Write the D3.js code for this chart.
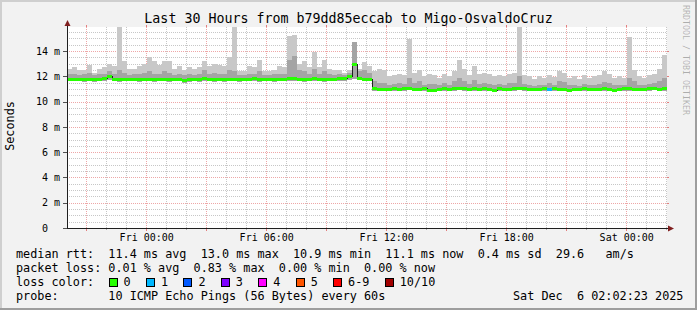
<!DOCTYPE html>
<html>
<head>
<meta charset="utf-8">
<script src="https://cdn.jsdelivr.net/npm/d3@7"></script>
<style>
html, body { margin: 0; padding: 0; background: #f2f2f2; }
svg { display: block; }
text { font-family: "DejaVu Sans Mono", monospace; white-space: pre; }
</style>
</head>
<body>
<div id="vis"></div>
<script>
const title = 'Last 30 Hours from b79dd85eccab to Migo-OsvaldoCruz';
const endTime = new Date(2025, 11, 6, 2, 2, 23);
const stepMinutes = 15;

// median rtt per step (ms)
const median = [
  11.8, 11.8, 11.8, 11.75, 11.8, 11.75, 11.8, 11.85, 12.0, 11.8,
  11.75, 11.8, 11.8, 11.8, 11.75, 11.8, 11.8, 11.75, 11.8, 11.8,
  11.75, 11.8, 11.8, 11.7, 11.75, 11.8, 11.75, 11.85, 11.8, 11.75,
  11.8, 11.75, 11.8, 11.8, 11.75, 11.8, 11.8, 11.85, 11.75, 11.8,
  11.8, 11.75, 11.8, 11.8, 11.9, 11.85, 11.8, 11.75, 11.8, 11.85,
  11.8, 11.75, 11.8, 11.8, 11.85, 11.9, 12.0, 13.0, 11.9, 11.8,
  11.8, 11.05, 11.0, 11.0, 11.0, 11.05, 11.0, 11.05, 11.1, 11.0,
  11.0, 11.05, 10.95, 10.95, 11.0, 11.05, 11.0, 11.05, 11.1, 11.05,
  11.0, 11.05, 11.0, 11.05, 11.0, 10.95, 11.05, 11.0, 11.0, 11.05,
  11.1, 11.05, 11.0, 11.0, 11.0, 11.05, 11.0, 11.05, 11.0, 11.0,
  10.95, 11.0, 11.0, 11.05, 11.0, 11.0, 11.0, 11.05, 11.0, 10.95,
  11.0, 11.05, 11.05, 11.0, 11.0, 11.0, 11.05, 11.1, 11.0, 11.05
];

// fastest ping per step (ms)
const minPing = [
  11.6, 11.62, 11.6, 11.55, 11.6, 11.58, 11.6, 11.62, 11.7, 11.6,
  11.55, 11.6, 11.6, 11.6, 11.55, 11.6, 11.6, 11.55, 11.6, 11.6,
  11.55, 11.6, 11.6, 11.5, 11.55, 11.6, 11.55, 11.6, 11.6, 11.55,
  11.6, 11.55, 11.6, 11.6, 11.55, 11.6, 11.6, 11.6, 11.55, 11.6,
  11.6, 11.55, 11.6, 11.6, 11.65, 11.6, 11.6, 11.55, 11.6, 11.6,
  11.6, 11.55, 11.6, 11.6, 11.6, 11.65, 11.7, 11.75, 11.7, 11.6,
  11.6, 10.85, 10.85, 10.8, 10.85, 10.85, 10.8, 10.85, 10.9, 10.85,
  10.8, 10.85, 10.8, 10.75, 10.85, 10.85, 10.8, 10.85, 10.9, 10.85,
  10.8, 10.85, 10.8, 10.85, 10.8, 10.75, 10.85, 10.8, 10.8, 10.85,
  10.9, 10.85, 10.8, 10.8, 10.85, 10.85, 10.8, 10.85, 10.8, 10.8,
  10.75, 10.8, 10.8, 10.85, 10.8, 10.8, 10.8, 10.85, 10.8, 10.75,
  10.8, 10.85, 10.85, 10.8, 10.8, 10.8, 10.85, 10.9, 10.8, 10.85
];

// upper edge of the dense part of the smoke (ms)
const midPing = [
  12.2, 12.2, 12.1, 12.15, 12.3, 12.1, 12.2, 12.2, 12.4, 12.2,
  12.5, 12.3, 12.1, 12.15, 12.2, 12.3, 12.4, 12.2, 12.2, 12.4,
  12.3, 12.1, 12.2, 12.1, 12.2, 12.1, 12.2, 12.5, 12.2, 12.3,
  12.2, 12.2, 12.5, 12.4, 12.1, 12.1, 12.2, 12.2, 12.4, 12.1,
  12.1, 12.15, 12.2, 12.2, 13.3, 13.6, 12.5, 12.4, 12.2, 12.6,
  12.2, 12.4, 12.2, 12.1, 12.2, 12.1, 12.3, 14.7, 12.4, 12.5,
  12.3, 11.6, 11.5, 11.45, 11.35, 11.4, 11.45, 11.4, 11.9, 11.5,
  11.6, 11.35, 11.4, 11.4, 11.3, 11.45, 11.35, 11.6, 11.9, 11.6,
  11.4, 11.7, 11.4, 11.5, 11.4, 11.3, 11.4, 11.35, 11.45, 11.5,
  12.0, 11.4, 11.3, 11.25, 11.35, 11.3, 11.45, 11.3, 11.6, 11.55,
  11.3, 11.35, 11.25, 11.4, 11.3, 11.35, 11.4, 11.55, 11.45, 11.3,
  11.35, 11.3, 11.9, 11.6, 11.35, 11.3, 11.4, 11.45, 11.6, 11.9
];

// slowest ping per step (ms)
const maxPing = [
  12.6, 12.7, 12.5, 12.5, 12.9, 12.3, 12.6, 12.7, 13.0, 12.8,
  15.9, 13.25, 12.6, 12.6, 12.85, 13.0, 13.5, 13.2, 12.9, 13.25,
  13.2, 12.6, 12.8, 12.5, 12.75, 12.6, 12.7, 13.2, 12.8, 13.0,
  12.9, 12.8, 13.5, 15.9, 12.4, 12.4, 12.8, 12.7, 13.3, 12.4,
  12.4, 12.5, 12.8, 12.7, 15.2, 15.3, 13.0, 13.2, 12.75, 13.9,
  12.7, 13.3, 12.6, 12.5, 12.5, 12.3, 12.5, 14.7, 12.6, 13.1,
  12.8, 12.4, 12.6, 12.5, 12.0, 12.1, 12.2, 12.1, 14.95, 12.3,
  12.5, 12.0, 12.2, 12.1, 11.9, 12.2, 12.0, 12.4, 13.3, 12.55,
  12.1, 12.8, 12.2, 12.3, 12.2, 12.0, 12.1, 12.0, 12.2, 12.3,
  15.9, 12.1, 12.0, 11.8, 12.0, 11.9, 12.1, 11.95, 12.4, 12.3,
  11.9, 12.0, 11.8, 12.1, 11.9, 12.0, 12.1, 12.4, 12.2, 11.9,
  12.0, 11.9, 15.1, 12.5, 12.0, 11.9, 12.1, 12.2, 12.6, 13.7
];

// lost pings per step (index into lossColors)
const loss = [
  0, 0, 0, 0, 0, 0, 0, 0, 0, 0,  0, 0, 0, 0, 0, 0, 0, 0, 0, 0,
  0, 0, 0, 0, 0, 0, 0, 0, 0, 0,  0, 0, 0, 0, 0, 0, 0, 0, 0, 0,
  0, 0, 0, 0, 0, 0, 0, 0, 0, 0,  0, 0, 0, 0, 0, 0, 0, 0, 0, 0,
  0, 0, 0, 0, 0, 0, 0, 0, 0, 0,  0, 0, 0, 0, 0, 0, 0, 0, 0, 0,
  0, 0, 0, 0, 0, 0, 0, 0, 0, 0,  0, 0, 0, 0, 0, 0, 1, 0, 0, 0,
  0, 0, 0, 0, 0, 0, 0, 0, 0, 0,  0, 0, 0, 0, 0, 0, 0, 0, 0, 0
];

const yTicks = [0, 2, 4, 6, 8, 10, 12, 14];
const yTickLabels = ['0  ', '2 m', '4 m', '6 m', '8 m', '10 m', '12 m', '14 m'];

const lossLabels = ['0', '1', '2', '3', '4', '5', '6-9', '10/10'];
const lossColors = ['#26ff00', '#00b8ff', '#0059ff', '#7e00ff', '#ff00ff', '#ff5500', '#ff0000', '#a10000'];

const legendRtt = 'median rtt:  11.4 ms avg  13.0 ms max  10.9 ms min  11.1 ms now  0.4 ms sd  29.6   am/s';
const legendLoss = 'packet loss: 0.01 % avg  0.83 % max  0.00 % min  0.00 % now';
const legendProbe = 'probe:       10 ICMP Echo Pings (56 Bytes) every 60s';
const stamp = 'Sat Dec  6 02:02:23 2025';

const W = 697, H = 310;
const plot = { left: 67, right: 667, top: 27, bottom: 228 };
const charW = 7.12;

const startTime = d3.timeMinute.offset(endTime, -30 * 60);
const times = median.map((d, i) => d3.timeMinute.offset(startTime, i * stepMinutes));

const x = d3.scaleTime().domain([startTime, endTime]).range([plot.left, plot.right]);
const y = d3.scaleLinear().domain([0, 15.9]).range([plot.bottom, plot.top]);

const svg = d3.select('#vis').append('svg')
  .attr('width', W)
  .attr('height', H);

// background + 3d border
svg.append('rect').attr('width', W).attr('height', H).attr('fill', '#f2f2f2');
svg.append('path').attr('d', `M0,0H${W}V2H2V${H}H0Z`).attr('fill', '#cfcfcf');
svg.append('path').attr('d', `M${W},${H}H0V${H - 2}H${W - 2}V0H${W}Z`).attr('fill', '#9e9e9e');

svg.append('rect')
  .attr('x', plot.left).attr('y', plot.top)
  .attr('width', plot.right - plot.left).attr('height', plot.bottom - plot.top)
  .attr('fill', '#ffffff');

svg.append('clipPath').attr('id', 'clip')
  .append('rect')
  .attr('x', plot.left).attr('y', plot.top)
  .attr('width', plot.right - plot.left).attr('height', plot.bottom - plot.top);

// grid
const grid = svg.append('g').attr('shape-rendering', 'crispEdges');
const minorY = d3.range(0.5, 15.9, 0.5).filter((v) => v % 2 !== 0);
const majorY = yTicks.slice(1);
const minorX = d3.timeHour.range(startTime, endTime).filter((d) => d.getHours() % 3 !== 0);
const majorX = d3.timeHour.every(3).range(startTime, endTime);

grid.selectAll('.gy').data(minorY).join('line')
  .attr('x1', plot.left).attr('x2', plot.right)
  .attr('y1', (d) => Math.round(y(d)) + 0.5).attr('y2', (d) => Math.round(y(d)) + 0.5)
  .attr('stroke', 'rgba(143,143,143,0.5)').attr('stroke-dasharray', '1,1');
grid.selectAll('.gx').data(minorX).join('line')
  .attr('x1', (d) => Math.round(x(d)) + 0.5).attr('x2', (d) => Math.round(x(d)) + 0.5)
  .attr('y1', plot.top).attr('y2', plot.bottom)
  .attr('stroke', 'rgba(143,143,143,0.5)').attr('stroke-dasharray', '1,1');
grid.selectAll('.my').data(majorY).join('line')
  .attr('x1', plot.left).attr('x2', plot.right)
  .attr('y1', (d) => Math.round(y(d)) + 0.5).attr('y2', (d) => Math.round(y(d)) + 0.5)
  .attr('stroke', 'rgba(222,79,79,0.5)').attr('stroke-dasharray', '1,1');
grid.selectAll('.mx').data(majorX).join('line')
  .attr('x1', (d) => Math.round(x(d)) + 0.5).attr('x2', (d) => Math.round(x(d)) + 0.5)
  .attr('y1', plot.top).attr('y2', plot.bottom)
  .attr('stroke', 'rgba(222,79,79,0.5)').attr('stroke-dasharray', '1,1');

// grid stubs outside the canvas
grid.selectAll('.sy').data(yTicks).join('path')
  .attr('d', (d) => {
    const yy = Math.round(y(d)) + 0.5;
    return `M${plot.left - 4},${yy}H${plot.left}`;
  })
  .attr('stroke', '#505050');
grid.selectAll('.sr').data(yTicks).join('path')
  .attr('d', (d) => {
    const yy = Math.round(y(d)) + 0.5;
    return `M${plot.right},${yy}H${plot.right + 2}`;
  })
  .attr('stroke', 'rgba(222,79,79,0.7)');
grid.selectAll('.sx').data(majorX).join('path')
  .attr('d', (d) => {
    const xx = Math.round(x(d)) + 0.5;
    return `M${xx},${plot.bottom}V${plot.bottom + 3}M${xx},${plot.top - 2}V${plot.top}`;
  })
  .attr('stroke', 'rgba(222,79,79,0.7)');
grid.selectAll('.sm').data(minorX).join('path')
  .attr('d', (d) => {
    const xx = Math.round(x(d)) + 0.5;
    return `M${xx},${plot.bottom}V${plot.bottom + 2}`;
  })
  .attr('stroke', 'rgba(143,143,143,0.7)');

// smoke
const data = svg.append('g').attr('clip-path', 'url(#clip)').attr('shape-rendering', 'crispEdges');
const stepEnd = (d) => d3.timeMinute.offset(d, stepMinutes);

data.selectAll('.smoke').data(times).join('rect')
  .attr('x', (d) => x(d))
  .attr('width', (d) => x(stepEnd(d)) - x(d))
  .attr('y', (d, i) => y(maxPing[i]))
  .attr('height', (d, i) => y(minPing[i]) - y(maxPing[i]))
  .attr('fill', '#c8c8c8');

data.selectAll('.dense').data(times).join('rect')
  .attr('x', (d) => x(d))
  .attr('width', (d) => x(stepEnd(d)) - x(d))
  .attr('y', (d, i) => y(midPing[i]))
  .attr('height', (d, i) => y(minPing[i]) - y(midPing[i]))
  .attr('fill', '#a4a4a4');

// median: thin dark step line, loss coloured band on top
const medPoints = times.map((d, i) => [d, median[i]]);
medPoints.push([endTime, median[median.length - 1]]);
data.append('path')
  .attr('d', d3.line().curve(d3.curveStepAfter).x((d) => x(d[0])).y((d) => Math.round(y(d[1])) + 0.5)(medPoints))
  .attr('fill', 'none')
  .attr('stroke', '#202020')
  .attr('stroke-width', 1);

data.selectAll('.med').data(times).join('rect')
  .attr('x', (d) => x(d))
  .attr('width', (d) => x(stepEnd(d)) - x(d))
  .attr('y', (d, i) => Math.round(y(median[i])) - 1)
  .attr('height', 3)
  .attr('fill', (d, i) => lossColors[loss[i]]);

// axes
const yAxis = d3.axisLeft(y)
  .tickValues(yTicks)
  .tickFormat((d, i) => yTickLabels[i])
  .tickSize(0)
  .tickPadding(7);
svg.append('g')
  .attr('transform', `translate(${plot.left},0)`)
  .call(yAxis)
  .call((g) => g.select('.domain').remove())
  .call((g) => g.selectAll('text')
    .attr('font-family', '"DejaVu Sans Mono", monospace')
    .attr('font-size', 10)
    .attr('fill', '#000'));

const xAxis = d3.axisBottom(x)
  .tickValues(d3.timeHour.every(6).range(startTime, endTime))
  .tickFormat(d3.timeFormat('%a %H:%M'))
  .tickSize(0)
  .tickPadding(6);
svg.append('g')
  .attr('transform', `translate(0,${plot.bottom})`)
  .call(xAxis)
  .call((g) => g.select('.domain').remove())
  .call((g) => g.selectAll('text')
    .attr('font-family', '"DejaVu Sans Mono", monospace')
    .attr('font-size', 10)
    .attr('fill', '#000'));

svg.append('path')
  .attr('d', `M${plot.left + 0.5},${plot.bottom}V${plot.top - 1}`)
  .attr('stroke', '#1f1f1f')
  .attr('shape-rendering', 'crispEdges');
svg.append('path')
  .attr('d', `M${plot.left},${plot.bottom + 0.5}H${plot.right + 2}`)
  .attr('stroke', '#1f1f1f')
  .attr('shape-rendering', 'crispEdges');
svg.append('path')
  .attr('d', `M${plot.left + 0.5},${plot.top - 7}L${plot.left + 3.5},${plot.top - 1}H${plot.left - 2.5}Z`)
  .attr('fill', '#801f1f');
svg.append('path')
  .attr('d', `M${plot.right + 7},${plot.bottom + 0.5}L${plot.right + 1},${plot.bottom + 3.5}V${plot.bottom - 2.5}Z`)
  .attr('fill', '#801f1f');

// titles
svg.append('text')
  .attr('x', W / 2).attr('y', 23)
  .attr('text-anchor', 'middle')
  .attr('font-size', 13.3)
  .text(title);

svg.append('text')
  .attr('transform', 'translate(14,126) rotate(-90)')
  .attr('text-anchor', 'middle')
  .attr('font-size', 11.8)
  .text('Seconds');

svg.append('text')
  .attr('transform', 'translate(683,5) rotate(90)')
  .attr('font-size', 8.3)
  .attr('fill', 'rgba(0,0,0,0.28)')
  .text('RRDTOOL / TOBI OETIKER');

// legend
const legend = svg.append('g').attr('font-size', 11.8);
legend.append('text').attr('x', 16).attr('y', 258).text(legendRtt);
legend.append('text').attr('x', 16).attr('y', 272).text(legendLoss);
legend.append('text').attr('x', 16).attr('y', 286).text('loss color:');
legend.append('text').attr('x', 16).attr('y', 300).text(legendProbe);
legend.append('text').attr('x', 513).attr('y', 300).text(stamp);

let bx = 16 + 13 * charW;
lossLabels.forEach((lab, i) => {
  legend.append('rect')
    .attr('x', Math.round(bx) + 0.5).attr('y', 278.5)
    .attr('width', 8).attr('height', 8)
    .attr('fill', lossColors[i])
    .attr('stroke', '#000');
  legend.append('text').attr('x', bx + 15).attr('y', 286).text(lab);
  bx += 15 + lab.length * charW + 15.3;
});
</script>
</body>
</html>
